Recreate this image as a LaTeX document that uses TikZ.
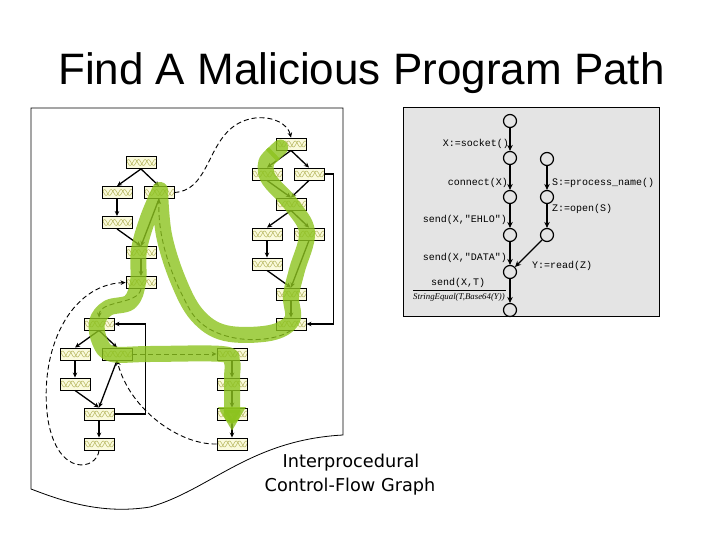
\documentclass[tikz,border=0pt]{standalone}
\usepackage{fontspec}
\setmainfont{Liberation Sans}
\newfontfamily\titlefont{Liberation Sans}
\newfontfamily\capfont{DejaVu Sans}
\newfontfamily\codefont{Liberation Mono}
\newfontfamily\serfont{Liberation Serif}
\usetikzlibrary{arrows.meta,calc}
\definecolor{boxfill}{RGB}{250,250,220}
\definecolor{boxpat}{RGB}{185,185,100}
\definecolor{hl}{RGB}{140,195,30}
\definecolor{panel}{RGB}{228,228,228}
\begin{document}
\begin{tikzpicture}[x=1pt,y=-1pt,
  blk/.style={draw=black,line width=0.9pt,fill=boxfill,minimum width=30pt,minimum height=12pt,inner sep=0pt,
    path picture={\begin{scope}[shift={(path picture bounding box.center)}]
      \draw[boxpat,line width=0.55pt] plot[domain=-16:16,samples=41,smooth] (\x,{3*sin(36*\x)});
      \draw[boxpat,line width=0.55pt] plot[domain=-16:16,samples=41,smooth] (\x,{3*sin(36*\x+120)});
    \end{scope}}},
  ed/.style={-{Stealth[length=5pt,width=4.5pt]},line width=1.3pt},
  dsh/.style={-{Stealth[length=5pt,width=4.5pt]},line width=0.9pt,dash pattern=on 5pt off 3pt},
  cn/.style={circle,draw,line width=1.2pt,fill=panel,minimum size=13pt,inner sep=0pt},
  pa/.style={-{Stealth[length=6pt,width=5.5pt]},line width=1.4pt},
  lbl/.style={font=\codefont\fontsize{10}{12}\selectfont,inner sep=0pt},
  hlpath/.style={draw=hl,opacity=0.8,line width=16pt,line cap=butt,line join=round,
    arrows={Round Cap[]-Triangle[length=24pt,width=26pt]}}
]
\useasboundingbox (0,0) rectangle (720,540);

% title
\node[anchor=base west,inner sep=0pt,font=\titlefont\fontsize{44}{50}\selectfont] (title) at (58,85) {Find A Malicious Program Path};

% page outline
\draw[line width=0.8pt] (31,108) -- (343,108) -- (343,435)
  .. controls (250,440) and (210,490) .. (150,507)
  .. controls (100,515) and (60,500) .. (31,489) -- cycle;

% caption
\node[anchor=base,inner sep=0pt,font=\capfont\fontsize{17.7}{24}\selectfont] (cap1) at (351,467) {Interprocedural};
\node[anchor=base,inner sep=0pt,font=\capfont\fontsize{17.7}{24}\selectfont] (cap2) at (350,491) {Control-Flow Graph};

% boxes: cluster A
\node[blk] (A1) at (141,162.5) {};
\node[blk] (A2) at (117,192.5) {};
\node[blk] (A3) at (159,192.5) {};
\node[blk] (A4) at (117,222.5) {};
\node[blk] (A5) at (141,252.5) {};
\node[blk] (A6) at (141,282.5) {};
% cluster C
\node[blk] (C1) at (291,144) {};
\node[blk] (C2) at (267,174) {};
\node[blk] (C3) at (309,174) {};
\node[blk] (C4) at (291,204) {};
\node[blk] (C5) at (267,234) {};
\node[blk] (C6) at (309,234) {};
\node[blk] (C7) at (267,264) {};
\node[blk] (C8) at (291,294) {};
\node[blk] (C9) at (291,324) {};
% cluster B
\node[blk] (B1) at (99,324) {};
\node[blk] (B2) at (75,354) {};
\node[blk] (B3) at (117,354) {};
\node[blk] (B4) at (75,384) {};
\node[blk] (B5) at (99,414) {};
\node[blk] (B6) at (99,444) {};
% cluster D
\node[blk] (D1) at (232,354) {};
\node[blk] (D2) at (232,384) {};
\node[blk] (D3) at (232,414) {};
\node[blk] (D4) at (232,444) {};

% solid edges
\draw[ed] (A1.south) -- (A2.north);
\draw[ed] (A1.south) -- (A3.north);
\draw[ed] (A2.south) -- (A4.north);
\draw[ed] (A4.south) -- (A5.north);
\draw[ed] (A3.south) -- (A5.north);
\draw[ed] (A5.south) -- (A6.north);

\draw[ed] (C1.south) -- (C2.north);
\draw[ed] (C1.south) -- (C3.north);
\draw[ed] (C2.south) -- (C4.north);
\draw[ed] (C3.south) -- (C4.north);
\draw[ed] (C4.south) -- (C5.north);
\draw[ed] (C4.south) -- (C6.north);
\draw[ed] (C5.south) -- (C7.north);
\draw[ed] (C7.south) -- (C8.north);
\draw[ed] (C6.south) -- (C8.north);
\draw[ed] (C8.south) -- (C9.north);
\draw[ed] (C3.east) -- ++(9,0) |- (C9.east);

\draw[ed] (B1.south) -- (B2.north);
\draw[ed] (B1.south) -- (B3.north);
\draw[ed] (B2.south) -- (B4.north);
\draw[ed] (B4.south) -- (B5.north);
\draw[ed] (B3.south) -- (B5.north);
\draw[ed] (B5.south) -- (B6.north);
\draw[ed] (B5.east) -- ++(31,0) |- (B1.east);

\draw[ed] (D1.south) -- (D2.north);
\draw[ed] (D2.south) -- (D3.north);
\draw[ed] (D3.south) -- (D4.north);

% dashed interprocedural edges
\draw[dsh] (A3.east) .. controls (215,190) and (205,125) .. (255,118)
  .. controls (275,116) and (288,125) .. (C1.north);
\draw[dsh] (C9.south) .. controls (270,345) and (210,345) .. (190,310)
  .. controls (165,265) and (158,230) .. (A3.south);
\draw[dsh] (A6.south) .. controls (138,305) and (100,300) .. (B1.north);
\draw[dsh] (B3.east) -- (D1.west);
\draw[dsh] (D4.west) .. controls (180,445) and (130,410) .. (B3.south);
\draw[dsh] (B6.south) .. controls (97,470) and (58,478) .. (48,420)
  .. controls (38,350) and (70,285) .. (A6.west);

% highlighted path
\draw[hlpath] plot[smooth,tension=0.6] coordinates {(286,142) (266,172) (291,204) (307,232) (297,270) (291,296) (292,320) (270,333) (225,333) (197,315) (178,280) (164,235) (160,190)}
  -- plot[smooth,tension=0.6] coordinates {(160,190) (148,218) (139,250) (138,282) (130,302) (108,308) (97,322) (100,342) (112,354) (150,354) (222,354) (232,362) (232,380) (232,431)};

% right panel
\draw[line width=1pt,fill=panel] (403,108) rectangle (659,316);
\node[cn] (P1) at (510,121) {};
\node[cn] (P2) at (510,158) {};
\node[cn] (P3) at (510,197) {};
\node[cn] (P4) at (510,235) {};
\node[cn] (P5) at (510,272) {};
\node[cn] (P6) at (510,310) {};
\node[cn] (Q1) at (547,159) {};
\node[cn] (Q2) at (547,197) {};
\node[cn] (Q3) at (547,235) {};
\draw[pa] (P1) -- (P2);
\draw[pa] (P2) -- (P3);
\draw[pa] (P3) -- (P4);
\draw[pa] (P4) -- (P5);
\draw[pa] (P5) -- (P6);
\draw[pa] (Q1) -- (Q2);
\draw[pa] (Q2) -- (Q3);
\draw[pa] (Q3) -- (P5);

\node[lbl,anchor=east] (l1) at (509,144) {X:=socket()};
\node[lbl,anchor=east] (l2) at (508,183) {connect(X)};
\node[lbl,anchor=east] (l3) at (507,220) {send(X,"EHLO")};
\node[lbl,anchor=east] (l4) at (507,258) {send(X,"DATA")};
\node[lbl] (l5) at (458,283) {send(X,T)};
\draw[line width=0.6pt] (413,290) -- (506,290);
\node[anchor=west,inner sep=0pt,font=\serfont\itshape\fontsize{8.8}{10}\selectfont] (l6) at (413,297.5) {StringEqual(T,Base64(Y))};
\node[lbl,anchor=west] (r1) at (552,183) {S:=process\_name()};
\node[lbl,anchor=west] (r2) at (552,209) {Z:=open(S)};
\node[lbl,anchor=west] (r3) at (532,266) {Y:=read(Z)};
\end{tikzpicture}
\end{document}
